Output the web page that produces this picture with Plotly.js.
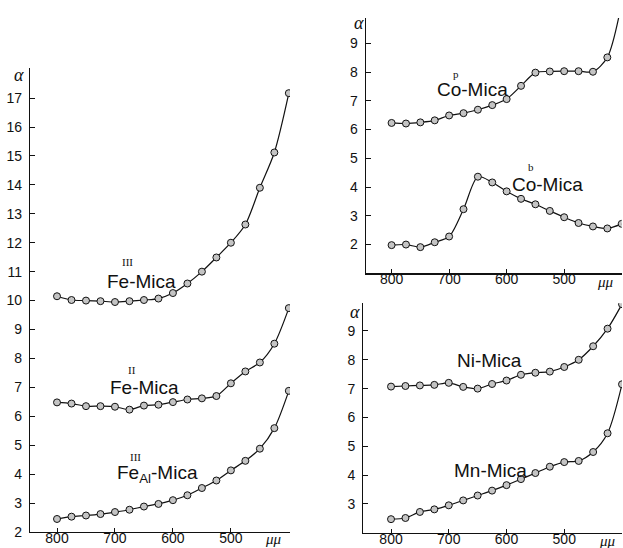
<!DOCTYPE html>
<html><head><meta charset="utf-8">
<script src="https://cdn.plot.ly/plotly-3.0.1.min.js"></script>
<style>html,body{margin:0;padding:0;background:#fff}#c{width:623px;height:548px}</style>
</head><body><div id="c"></div>
<script>
// wavelengths (mμ)
const wl = [800,775,750,725,700,675,650,625,600,575,550,525,500,475,450,425,400];
// left panel
const feIII  = [10.15,10.02,10.0,9.98,9.95,9.98,10.02,10.07,10.26,10.59,11.0,11.49,12.0,12.63,13.9,15.12,17.17];
const feII   = [6.48,6.44,6.35,6.35,6.33,6.23,6.37,6.40,6.49,6.58,6.62,6.70,7.14,7.55,7.86,8.51,9.74];
const feAlIII= [2.45,2.53,2.57,2.62,2.69,2.77,2.88,2.97,3.10,3.27,3.52,3.78,4.13,4.46,4.88,5.59,6.88];
// top right panel
const coP = [6.23,6.21,6.25,6.32,6.49,6.57,6.69,6.85,7.06,7.52,7.98,8.02,8.03,8.03,8.01,8.51,10.4];
const coB = [1.98,2.0,1.91,2.08,2.28,3.23,4.36,4.16,3.85,3.59,3.40,3.17,2.95,2.75,2.63,2.56,2.72];
// bottom right panel
const ni = [7.07,7.09,7.11,7.13,7.20,7.06,7.0,7.16,7.28,7.48,7.55,7.59,7.75,8.0,8.47,9.08,9.93];
const mn = [2.47,2.51,2.72,2.81,2.95,3.12,3.29,3.46,3.65,3.86,4.07,4.29,4.45,4.49,4.80,5.45,7.15];
// tick labels
const xTicks = [800,700,600,500];
const yTicksLeft = [2,3,4,5,6,7,8,9,10,11,12,13,14,15,16,17];
const yTicksTR = [2,3,4,5,6,7,8,9];
const yTicksBR = [3,4,5,6,7,8,9];

const W=623,H=548;
const px=x=>x/W, py=y=>1-y/H;

function tr(y, xa, ya){
  return {x:wl, y:y, xaxis:xa, yaxis:ya, type:'scatter', mode:'lines+markers',
    line:{color:'#111', width:1.2, shape:'spline', smoothing:0.8},
    marker:{size:7, color:'#c4c4c4', line:{color:'#111', width:1}},
    hoverinfo:'skip', showlegend:false};
}
const data = [
  tr(feIII,'x','y'), tr(feII,'x','y'), tr(feAlIII,'x','y'),
  tr(coP,'x2','y2'), tr(coB,'x2','y2'),
  tr(ni,'x3','y3'), tr(mn,'x3','y3')
];

const tickFont = {family:'Liberation Sans, Arial, sans-serif', size:14, color:'#111'};
function xa(dom, range, anchor){
  return {domain:dom, range:range, anchor:anchor, showline:true, linecolor:'#111', linewidth:1.2,
    showgrid:false, zeroline:false, ticks:'inside', ticklen:4, tickcolor:'#111',
    tickvals:xTicks, ticktext:xTicks.map(String), tickfont:tickFont, ticklabelstandoff:-7};
}
function ya(dom, range, anchor, tv){
  return {domain:dom, range:range, anchor:anchor, showline:true, linecolor:'#111', linewidth:1.2,
    showgrid:false, zeroline:false, ticks:'inside', ticklen:5, tickcolor:'#111',
    tickvals:tv, ticktext:tv.map(String), tickfont:tickFont, ticklabelstandoff:4};
}

const lblFont = {family:'Liberation Sans, Arial, sans-serif', size:19, color:'#111'};
const supFont = {family:'Liberation Serif, Times New Roman, serif', size:11, color:'#111'};
const aFont = {family:'Liberation Serif, serif', size:18, color:'#111'};
const muFont = {family:'Liberation Serif, serif', size:15, color:'#111'};
function ann(text, x, y, font){
  return {text:text, x:px(x), y:py(y), xref:'paper', yref:'paper', showarrow:false,
    font:font, xanchor:'center', yanchor:'middle'};
}
const annotations = [
  ann('Fe-Mica',141,281,lblFont), ann('III',127,262,supFont),
  ann('Fe-Mica',144,387,lblFont), ann('II',132,370,supFont),
  ann('Fe<sub>Al</sub>-Mica',157,474,lblFont), ann('III',135,457,supFont),
  ann('Co-Mica',472,89,lblFont), ann('p',456,74,supFont),
  ann('Co-Mica',547,184,lblFont), ann('b',531,167,supFont),
  ann('Ni-Mica',489,361,lblFont),
  ann('Mn-Mica',490,470,lblFont),
  ann('<i>α</i>',19,75,aFont), ann('<i>α</i>',359,23,aFont), ann('<i>α</i>',355,312,aFont),
  ann('<i>μμ</i>',273,539,muFont), ann('<i>μμ</i>',605,282,muFont), ann('<i>μμ</i>',607,541,muFont)
];

const layout = {
  width:W, height:H, margin:{l:0,r:0,t:0,b:0},
  paper_bgcolor:'#fff', plot_bgcolor:'rgba(0,0,0,0)',
  xaxis: xa([px(30),px(290)],[846.6,398],'y'),
  yaxis: ya([py(532),py(68)],[2,18.04],'x',yTicksLeft),
  xaxis2: xa([px(365.7),px(621.7)],[845,400],'y2'),
  yaxis2: ya([py(273.3),py(18)],[1,9.88],'x2',yTicksTR),
  xaxis3: xa([px(363.3),px(622)],[848,400],'y3'),
  yaxis3: ya([py(532.7),py(303.3)],[2,9.96],'x3',yTicksBR),
  annotations: annotations
};
Plotly.newPlot('c', data, layout, {displayModeBar:false, staticPlot:true});
</script></body></html>
